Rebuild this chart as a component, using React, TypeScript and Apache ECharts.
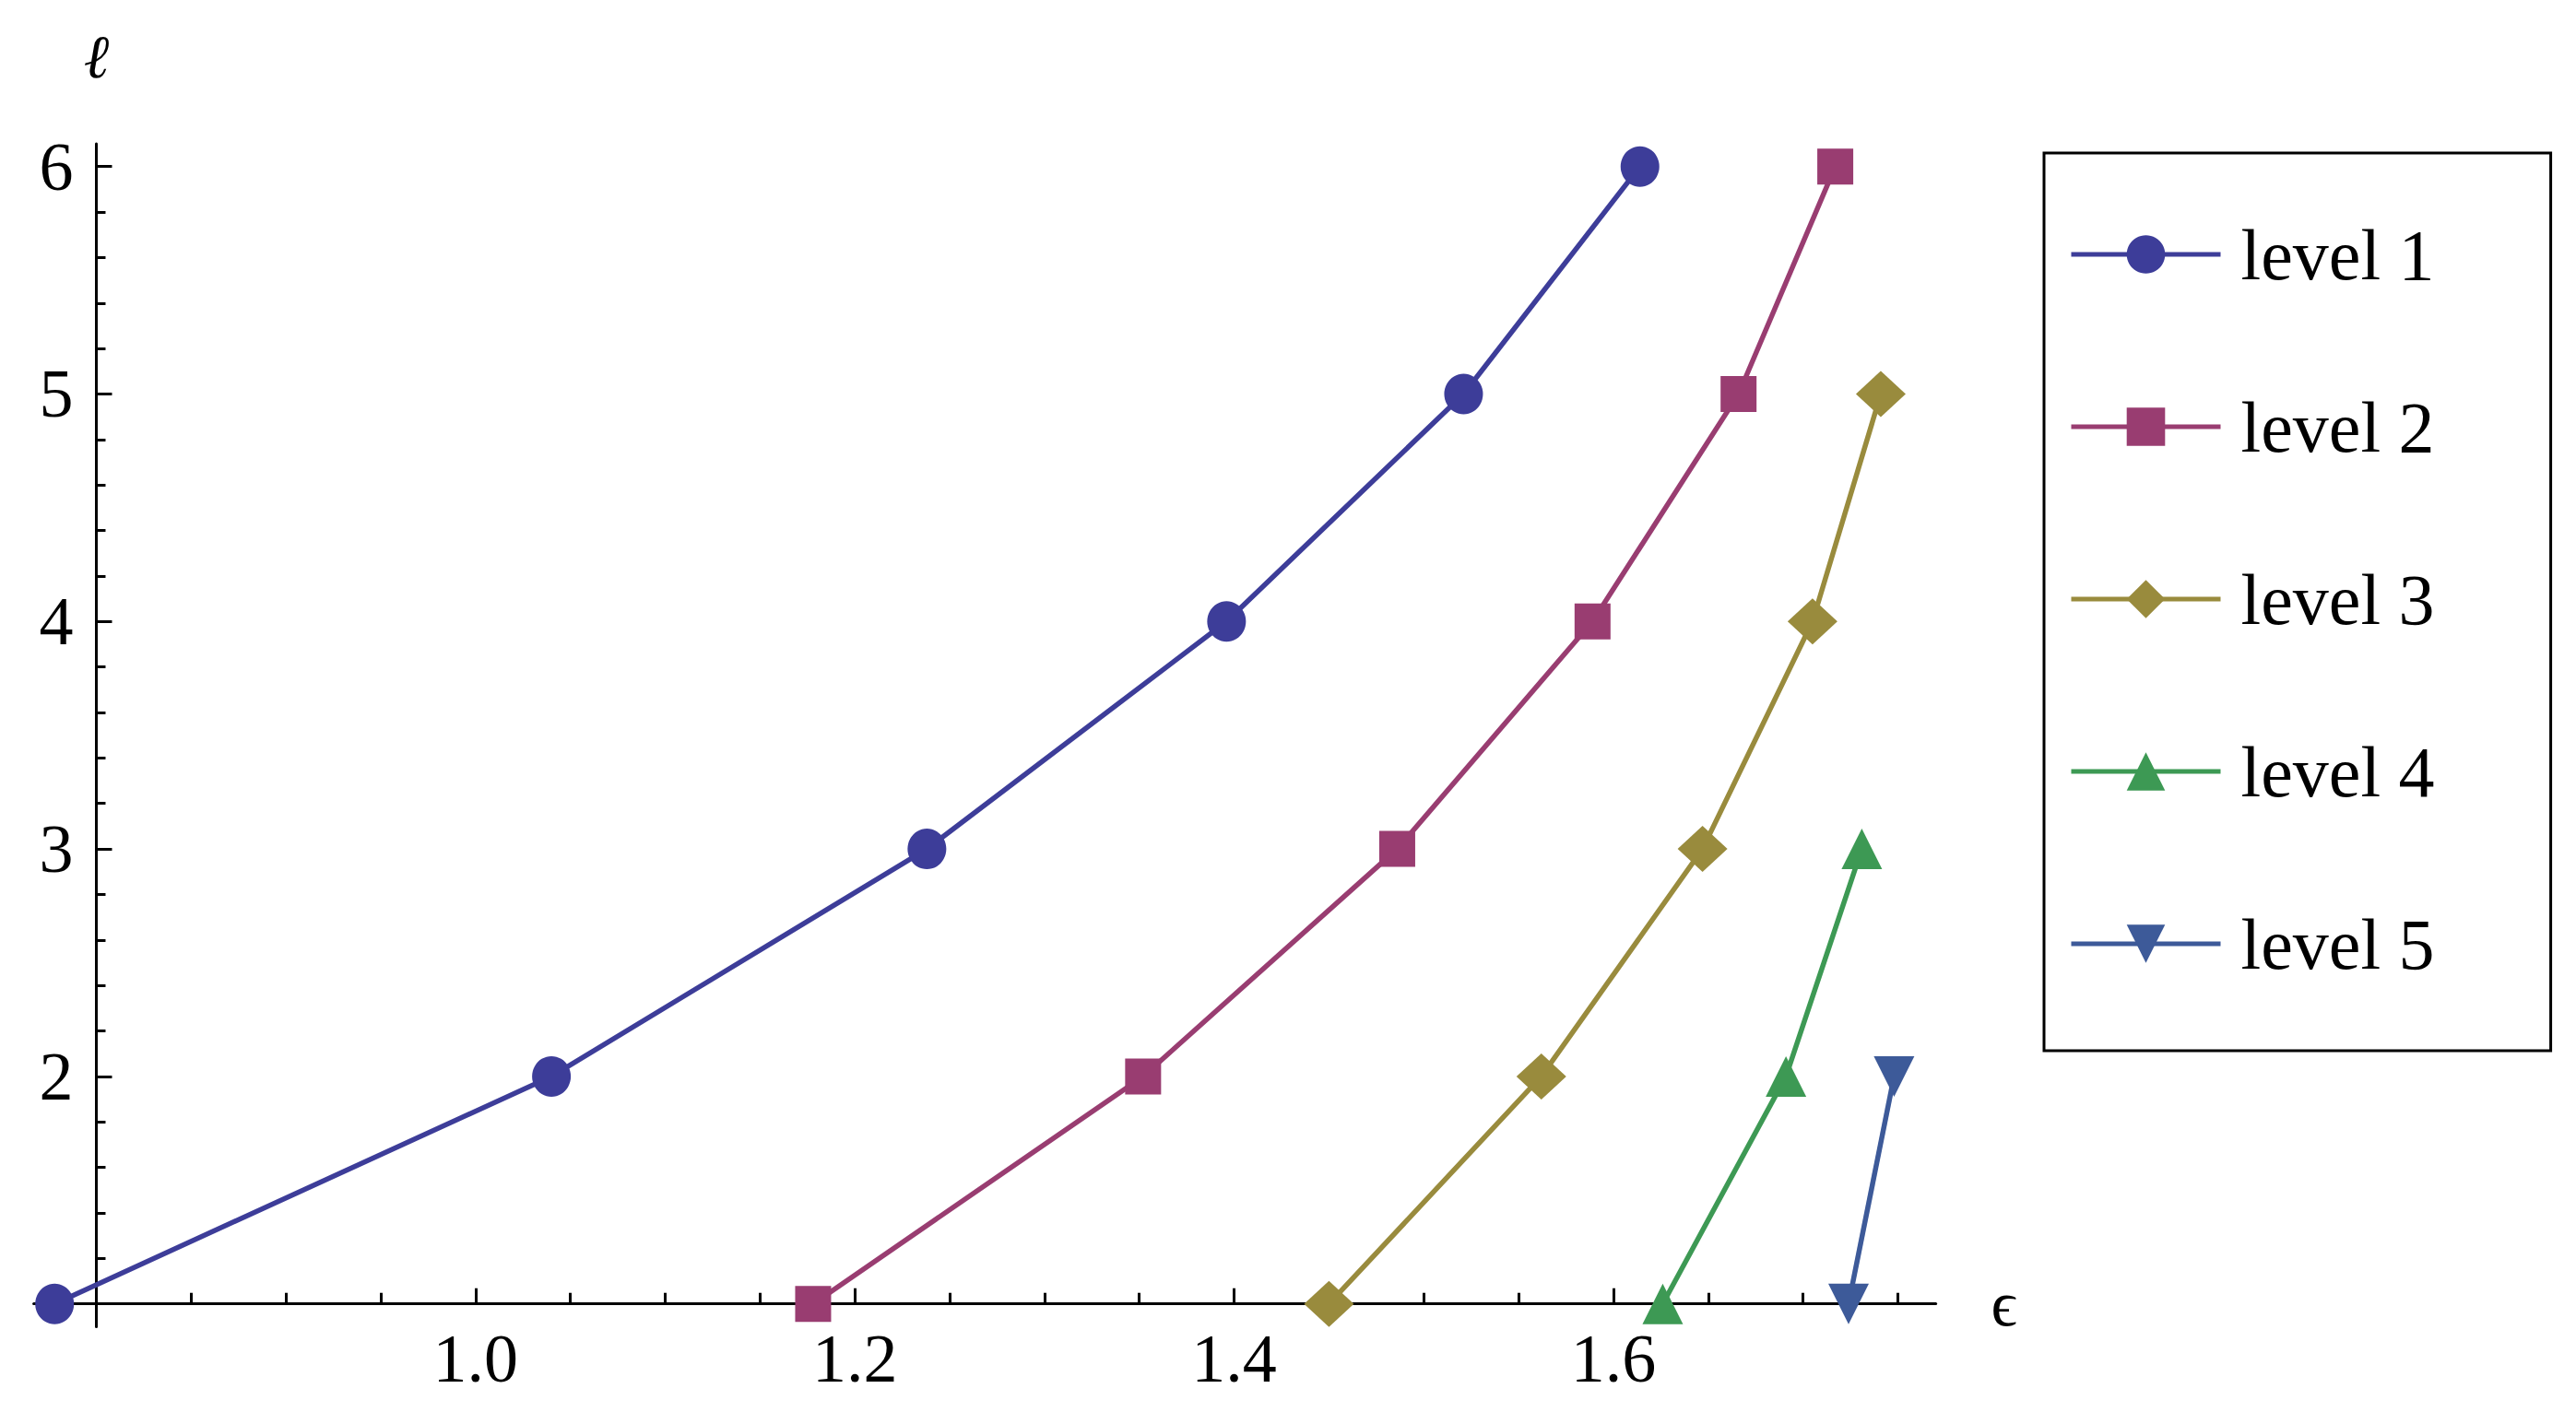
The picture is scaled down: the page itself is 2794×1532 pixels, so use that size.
import React, { useEffect, useRef } from "react";
import * as echarts from "echarts";

// ---- data ----
const seriesNames = ["level 1", "level 2", "level 3", "level 4", "level 5"];
const level1: [number, number][] = [[0.778, 1], [1.040, 2], [1.238, 3], [1.396, 4], [1.521, 5], [1.614, 6]];
const level2: [number, number][] = [[1.178, 1], [1.352, 2], [1.486, 3], [1.589, 4], [1.666, 5], [1.717, 6]];
const level3: [number, number][] = [[1.450, 1], [1.562, 2], [1.647, 3], [1.705, 4], [1.741, 5]];
const level4: [number, number][] = [[1.626, 1], [1.691, 2], [1.731, 3]];
const level5: [number, number][] = [[1.724, 1], [1.748, 2]];

const xMajorTicks = [1.0, 1.2, 1.4, 1.6];
const xMinorTicks = [0.85, 0.9, 0.95, 1.05, 1.1, 1.15, 1.25, 1.3, 1.35, 1.45, 1.5, 1.55, 1.65, 1.7, 1.75];
const yMajorTicks = [2, 3, 4, 5, 6];
const yMinorTicks = [1.2, 1.4, 1.6, 1.8, 2.2, 2.4, 2.6, 2.8, 3.2, 3.4, 3.6, 3.8, 4.2, 4.4, 4.6, 4.8, 5.2, 5.4, 5.6, 5.8];

const X_MIN = 0.767;
const X_MAX = 1.77;
const Y_MIN = 0.9;
const Y_MAX = 6.1;
const X_AXIS_AT = 1; // value of y where x-axis is drawn
const Y_AXIS_AT = 0.8; // value of x where y-axis is drawn

const colors = ["#3D3D99", "#993D71", "#998B3D", "#3D9954", "#3D5A99"];

export default function App() {
  const ref = useRef<HTMLDivElement>(null);

  useEffect(() => {
    document.body.style.margin = "0";
    document.body.style.overflow = "hidden";
    if (!ref.current) return;
    const chart = echarts.init(ref.current, null, { renderer: "svg" });

    const grid = { left: 36.6, top: 156, width: 2063, height: 1283.4 };
    const yAxisOffset = -((Y_AXIS_AT - X_MIN) / (X_MAX - X_MIN)) * grid.width;
    const xAxisOffset = -((X_AXIS_AT - Y_MIN) / (Y_MAX - Y_MIN)) * grid.height;

    const font = "'Liberation Serif', 'DejaVu Serif', 'Times New Roman', serif";
    const axisLineStyle = { color: "#000", width: 3 };

    const mk = (
      name: string,
      data: [number, number][],
      color: string,
      symbol: string,
      size: number | number[],
      rotate = 0
    ) => ({
      name,
      type: "line",
      data,
      xAxisIndex: 0,
      yAxisIndex: 0,
      symbol,
      symbolSize: size,
      symbolRotate: rotate,
      showSymbol: true,
      clip: false,
      color,
      lineStyle: { color, width: 5.5 },
      itemStyle: { color },
      emphasis: { disabled: true },
    });

    chart.setOption({
      animation: false,
      backgroundColor: "#fff",
      grid,
      legend: {
        orient: "vertical",
        left: 2217,
        top: 166,
        itemWidth: 162,
        itemHeight: 52,
        itemGap: 109,
        padding: [71, 126, 77, 27],
        borderColor: "#000",
        borderWidth: 3,
        selectedMode: false,
        data: seriesNames,
        lineStyle: { width: 5 },
        textStyle: { fontFamily: font, fontSize: 78, color: "#000", padding: [0, 0, 0, 17] },
      },
      xAxis: [
        {
          type: "value",
          min: X_MIN,
          max: X_MAX,
          position: "bottom",
          offset: xAxisOffset,
          name: "ϵ",
          nameLocation: "end",
          nameGap: 60,
          nameTextStyle: { fontFamily: font, fontSize: 70, color: "#000" },
          axisLine: { show: true, onZero: false, lineStyle: axisLineStyle },
          axisTick: { show: true, inside: true, length: 17, lineStyle: { color: "#000", width: 3 }, customValues: xMajorTicks },
          axisLabel: {
            show: true,
            customValues: xMajorTicks,
            formatter: (v: number) => v.toFixed(1),
            margin: 22,
            fontFamily: font,
            fontSize: 74,
            color: "#000",
          },
          splitLine: { show: false },
        },
        {
          type: "value",
          min: X_MIN,
          max: X_MAX,
          position: "bottom",
          offset: xAxisOffset,
          axisLine: { show: false, onZero: false },
          axisTick: { show: true, inside: true, length: 12, lineStyle: { color: "#000", width: 3 }, customValues: xMinorTicks },
          axisLabel: { show: false },
          splitLine: { show: false },
        },
      ],
      yAxis: [
        {
          type: "value",
          min: Y_MIN,
          max: Y_MAX,
          position: "left",
          offset: yAxisOffset,
          name: "ℓ",
          nameLocation: "end",
          nameGap: 62,
          nameTextStyle: { fontFamily: font, fontSize: 66, fontStyle: "italic", color: "#000" },
          axisLine: { show: true, onZero: false, lineStyle: axisLineStyle },
          axisTick: { show: true, inside: true, length: 17, lineStyle: { color: "#000", width: 3 }, customValues: yMajorTicks },
          axisLabel: {
            show: true,
            customValues: yMajorTicks,
            formatter: (v: number) => String(v),
            margin: 25,
            fontFamily: font,
            fontSize: 74,
            color: "#000",
          },
          splitLine: { show: false },
        },
        {
          type: "value",
          min: Y_MIN,
          max: Y_MAX,
          position: "left",
          offset: yAxisOffset,
          axisLine: { show: false, onZero: false },
          axisTick: { show: true, inside: true, length: 10, lineStyle: { color: "#000", width: 3 }, customValues: yMinorTicks },
          axisLabel: { show: false },
          splitLine: { show: false },
        },
      ],
      series: [
        mk(seriesNames[0], level1, colors[0], "circle", [42, 44]),
        mk(seriesNames[1], level2, colors[1], "rect", 39),
        mk(seriesNames[2], level3, colors[2], "diamond", [54, 50]),
        mk(seriesNames[3], level4, colors[3], "triangle", 44),
        mk(seriesNames[4], level5, colors[4], "triangle", 44, 180),
      ],
    });

    return () => chart.dispose();
  }, []);

  return <div ref={ref} style={{ width: 2794, height: 1532 }} />;
}
